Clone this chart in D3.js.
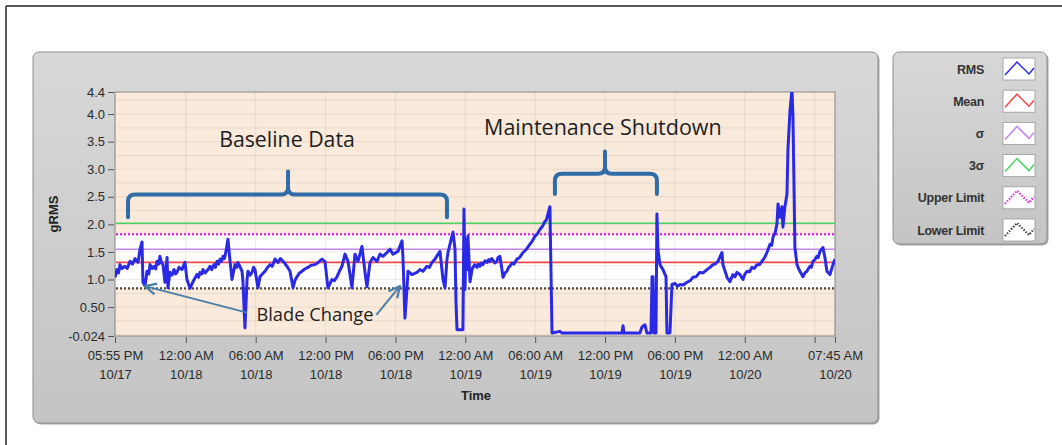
<!DOCTYPE html>
<html>
<head>
<meta charset="utf-8">
<script src="https://cdn.jsdelivr.net/npm/d3@7"></script>
<style>
  body { margin: 0; background: #fff; }
  svg { display: block; font-family: "Liberation Sans", Arial, sans-serif; }
</style>
</head>
<body>
<svg id="chart" width="1062" height="445"></svg>
<script>
// time window of the recording
const startTime = "2013-10-17T17:55";
const endTime = "2013-10-20T07:45";

// x ticks (the 06:00 AM 10/20 tick carries no label in the original)
const xTickTimes = ["2013-10-17T17:55", "2013-10-18T00:00", "2013-10-18T06:00", "2013-10-18T12:00",
  "2013-10-18T18:00", "2013-10-19T00:00", "2013-10-19T06:00", "2013-10-19T12:00",
  "2013-10-19T18:00", "2013-10-20T00:00", "2013-10-20T06:00", "2013-10-20T07:45"];
const xTickTop = ["05:55 PM", "12:00 AM", "06:00 AM", "12:00 PM", "06:00 PM", "12:00 AM",
  "06:00 AM", "12:00 PM", "06:00 PM", "12:00 AM", "", "07:45 AM"];
const xTickBottom = ["10/17", "10/18", "10/18", "10/18", "10/18", "10/19",
  "10/19", "10/19", "10/19", "10/20", "", "10/20"];

const yTickValues = [4.4, 4.0, 3.5, 3.0, 2.5, 2.0, 1.5, 1.0, 0.5, -0.024];
const yTickLabels = ["4.4", "4.0", "3.5", "3.0", "2.5", "2.0", "1.5", "1.0", "0.50", "-0.024"];

// reference levels (gRMS)
const meanLevel = 1.31;
const sigmaLevel = 1.55;
const threeSigmaLevel = 2.02;
const upperLimit = 1.82;
const lowerLimit = 0.84;

// RMS trace: [hours after 05:55 PM 10/17, gRMS]
const rmsPoints = [
  [0, 1.04], [0.17, 1.18], [0.30, 1.12], [0.43, 1.27], [0.60, 1.20], [0.86, 1.24], [1.05, 1.20],
  [1.29, 1.33], [1.50, 1.28], [1.72, 1.38], [1.98, 1.31],
  [2.15, 1.55], [2.32, 1.68], [2.40, 0.95], [2.58, 0.89], [2.75, 1.15], [2.90, 1.10], [3.01, 1.27],
  [3.20, 1.20], [3.35, 1.24], [3.50, 1.19], [3.61, 1.33], [3.75, 1.28], [3.86, 1.42], [4.00, 1.30],
  [4.12, 1.27], [4.29, 0.95], [4.47, 1.40], [4.55, 0.85], [4.72, 1.13], [4.90, 1.08],
  [5.07, 1.18], [5.20, 1.10], [5.32, 1.13], [5.50, 1.22], [5.75, 1.18], [6.01, 1.31], [6.18, 1.00],
  [6.44, 0.84], [6.70, 0.96], [6.85, 1.02],
  [7.04, 1.09], [7.18, 1.04], [7.30, 1.13], [7.45, 1.10], [7.56, 1.18], [7.75, 1.12], [7.90, 1.16],
  [8.05, 1.20], [8.16, 1.24], [8.30, 1.18], [8.50, 1.27], [8.62, 1.22], [8.76, 1.33],
  [8.90, 1.28], [9.02, 1.37], [9.15, 1.33], [9.27, 1.42], [9.40, 1.38], [9.53, 1.51], [9.70, 1.73],
  [9.88, 1.33], [10.05, 1.00], [10.30, 1.27], [10.45, 1.22],
  [10.56, 1.31], [10.91, 1.15], [10.99, 0.96], [11.16, 0.12], [11.34, 1.00], [11.42, 1.15],
  [11.60, 1.08], [11.76, 1.13], [11.90, 1.22], [12.02, 1.18], [12.28, 0.85], [12.45, 1.05],
  [12.65, 1.10], [12.88, 1.15], [13.10, 1.22], [13.31, 1.27], [13.50, 1.24],
  [13.74, 1.37], [14.00, 1.31], [14.20, 1.38], [14.43, 1.33], [14.60, 1.29], [14.77, 1.24],
  [15.03, 1.15], [15.29, 0.85], [15.45, 0.98],
  [15.63, 1.05], [15.85, 1.12], [16.06, 1.15], [16.30, 1.19], [16.57, 1.22], [16.85, 1.26],
  [17.17, 1.27], [17.45, 1.31], [17.78, 1.37], [18.03, 1.33],
  [18.29, 0.85], [18.63, 1.00], [18.85, 0.98], [19.06, 1.05], [19.25, 1.14], [19.49, 1.24],
  [19.75, 1.46], [20.01, 1.33],
  [20.35, 0.85], [20.61, 1.46], [20.87, 1.33], [21.21, 1.60], [21.47, 1.13], [21.64, 0.87],
  [21.90, 1.31], [22.16, 1.40], [22.50, 1.33], [22.76, 1.46], [23.01, 1.42], [23.36, 1.49],
  [23.62, 1.55], [23.87, 1.46], [24.30, 1.51], [24.65, 1.70], [24.73, 1.40], [24.90, 0.30],
  [25.08, 0.85], [25.16, 1.15], [25.50, 1.09], [25.93, 1.13], [26.19, 1.18], [26.45, 1.15],
  [26.79, 1.24], [27.00, 1.22], [27.22, 1.31], [27.48, 1.37], [27.74, 1.46], [27.91, 1.51],
  [28.17, 1.00], [28.34, 0.85], [28.51, 1.37], [28.60, 1.49], [28.94, 1.79], [29.03, 1.86],
  [29.20, 1.55], [29.28, 0.63], [29.37, 0.09], [29.71, 0.09], [29.88, 0.09], [29.97, 2.28],
  [30.06, 0.82], [30.14, 1.73], [30.23, 1.18], [30.31, 1.79], [30.49, 0.96], [30.66, 1.18],
  [30.74, 1.22], [30.90, 1.27], [31.09, 1.22], [31.20, 1.28], [31.34, 1.24], [31.48, 1.30],
  [31.60, 1.27], [31.78, 1.34], [31.95, 1.31], [32.08, 1.36], [32.20, 1.33], [32.35, 1.38],
  [32.46, 1.35], [32.62, 1.30], [32.80, 1.33], [32.89, 1.40], [33.06, 1.42], [33.23, 1.18],
  [33.32, 1.04], [33.50, 1.12], [33.66, 1.15], [33.80, 1.22], [33.92, 1.24], [34.10, 1.30],
  [34.25, 1.28], [34.52, 1.37], [34.75, 1.40], [35.04, 1.49], [35.30, 1.54], [35.64, 1.64],
  [35.85, 1.70], [36.07, 1.79], [36.25, 1.82], [36.50, 1.91], [36.70, 1.96], [36.93, 2.06],
  [37.05, 2.08], [37.18, 2.19], [37.35, 2.32], [37.53, 0.03], [38.21, 0.06], [38.39, 0.03],
  [43.54, 0.03], [43.63, 0.16], [43.71, 0.03], [45.08, 0.03], [45.26, 0.14], [45.51, 0.18],
  [45.68, 0.03], [46.03, 0.03], [46.12, 1.05], [46.20, 1.05], [46.29, 0.03], [46.46, 0.03],
  [46.54, 2.19], [46.63, 1.55], [46.80, 1.27], [47.06, 1.18], [47.32, 1.05], [47.40, 0.03],
  [47.66, 0.03], [47.83, 0.91], [48.09, 0.93], [48.30, 0.88], [48.52, 0.91], [48.80, 0.90],
  [49.12, 0.95], [49.40, 0.98], [49.64, 1.04], [49.90, 1.05], [50.24, 1.13], [50.50, 1.12],
  [50.84, 1.18], [51.10, 1.22], [51.35, 1.27], [51.55, 1.28], [51.78, 1.33], [52.13, 1.49],
  [52.21, 1.27], [52.56, 1.04], [52.81, 0.96], [53.07, 1.09], [53.25, 1.05], [53.41, 1.13],
  [53.67, 1.09], [53.93, 1.00], [54.10, 1.10], [54.27, 1.15], [54.50, 1.14], [54.70, 1.22],
  [54.90, 1.20], [55.13, 1.27], [55.35, 1.27], [55.56, 1.33], [55.80, 1.40], [55.99, 1.49],
  [56.25, 1.64], [56.40, 1.62], [56.51, 1.77], [56.70, 1.85], [56.85, 2.01], [56.94, 2.37],
  [57.11, 2.13], [57.28, 2.32], [57.36, 1.95], [57.53, 2.32], [57.71, 2.55], [57.79, 3.34],
  [57.97, 4.07], [58.14, 4.44], [58.22, 3.96], [58.31, 2.74], [58.39, 1.58], [58.57, 1.27],
  [58.70, 1.20], [58.82, 1.15], [58.95, 1.10], [59.08, 1.05], [59.25, 1.12], [59.42, 1.15],
  [59.55, 1.20], [59.68, 1.24], [59.80, 1.22], [59.94, 1.33], [60.10, 1.36], [60.28, 1.42],
  [60.40, 1.40], [60.54, 1.51], [60.80, 1.58], [60.97, 1.40], [61.14, 1.15], [61.40, 1.09],
  [61.66, 1.27], [61.83, 1.37]
];

// legend
const legendNames = ["RMS", "Mean", "\u03c3", "3\u03c3", "Upper Limit", "Lower Limit"];
const legendColors = ["#2a2ae6", "#ef4a4a", "#c486f0", "#4cd164", "#e030e6", "#4a4838"];
const legendDashed = [false, false, false, false, true, true];

// annotations: [hours, gRMS]
const baselineBrace = { from: 1.12, to: 28.51, mid: 14.86, bar: 2.54, end: 2.13, tip: 2.96 };
const shutdownBrace = { from: 37.78, to: 46.54, mid: 42.08, bar: 2.92, end: 2.55, tip: 3.32 };
const bladeArrows = [[[11.34, 0.40], [2.58, 0.88]], [[22.45, 0.36], [24.47, 0.88]]];

const svg = d3.select("#chart");
const parse = d3.timeParse("%Y-%m-%dT%H:%M");
const t0 = parse(startTime);
const atHour = h => new Date(t0.getTime() + h * 3600e3);

const plot = { left: 115, right: 835, top: 92, bottom: 336 };

const x = d3.scaleTime()
  .domain([t0, parse(endTime)])
  .range([plot.left, plot.right]);

const y = d3.scaleLinear()
  .domain([-0.024, 4.4])
  .range([plot.bottom, plot.top]);

// page frame lines
svg.append("line").attr("x1", 6).attr("x2", 1062).attr("y1", 6).attr("y2", 6)
  .attr("stroke", "#222").attr("stroke-width", 1.5);
svg.append("line").attr("x1", 6).attr("x2", 6).attr("y1", 6).attr("y2", 445)
  .attr("stroke", "#222").attr("stroke-width", 1.5);

// gray panels
const defs = svg.append("defs");
const grad = defs.append("linearGradient").attr("id", "panelGrad")
  .attr("x1", 0).attr("y1", 0).attr("x2", 0).attr("y2", 1);
grad.append("stop").attr("offset", "0%").attr("stop-color", "#d8d8d8");
grad.append("stop").attr("offset", "100%").attr("stop-color", "#c4c4c4");

defs.append("clipPath").attr("id", "plotClip")
  .append("rect")
  .attr("x", plot.left).attr("y", plot.top)
  .attr("width", plot.right - plot.left).attr("height", plot.bottom - plot.top);

defs.append("marker").attr("id", "arrowHead")
  .attr("viewBox", "0 0 10 10").attr("refX", 9).attr("refY", 5)
  .attr("markerWidth", 7).attr("markerHeight", 7).attr("orient", "auto")
  .append("path").attr("d", "M1,1 L9,5 L1,9")
  .attr("fill", "none").attr("stroke", "#4a7fa8").attr("stroke-width", 1.6);

function panel(x0, y0, x1, y1) {
  svg.append("rect")
    .attr("x", x0 + 1.5).attr("y", y0 + 1.5).attr("width", x1 - x0).attr("height", y1 - y0)
    .attr("rx", 6).attr("fill", "#a8a8a8");
  svg.append("rect")
    .attr("x", x0).attr("y", y0).attr("width", x1 - x0).attr("height", y1 - y0)
    .attr("rx", 6).attr("fill", "url(#panelGrad)")
    .attr("stroke", "#8e8e8e").attr("stroke-width", 1);
}
panel(33, 52, 878, 423);
panel(893, 52, 1047, 244);

// plot background: beige with white band between limits
svg.append("rect")
  .attr("x", plot.left).attr("y", plot.top)
  .attr("width", plot.right - plot.left).attr("height", plot.bottom - plot.top)
  .attr("fill", "#f9eadb");
svg.append("rect")
  .attr("x", plot.left).attr("y", y(upperLimit))
  .attr("width", plot.right - plot.left).attr("height", y(lowerLimit) - y(upperLimit))
  .attr("fill", "#ffffff");

// grid
const grid = svg.append("g").attr("stroke", "#7a6a5a").attr("stroke-opacity", 0.13);
grid.selectAll("line.h")
  .data(d3.range(0, 4.4, 0.25))
  .join("line")
  .attr("x1", plot.left).attr("x2", plot.right)
  .attr("y1", d => y(d)).attr("y2", d => y(d));
grid.selectAll("line.v")
  .data(xTickTimes.map(parse))
  .join("line")
  .attr("x1", d => x(d)).attr("x2", d => x(d))
  .attr("y1", plot.top).attr("y2", plot.bottom);

svg.append("rect")
  .attr("x", plot.left).attr("y", plot.top)
  .attr("width", plot.right - plot.left).attr("height", plot.bottom - plot.top)
  .attr("fill", "none").attr("stroke", "#8a8a8a").attr("stroke-width", 1);

// reference lines
const refs = [
  { v: threeSigmaLevel, c: legendColors[3], w: 1.6, dash: null },
  { v: upperLimit, c: legendColors[4], w: 2.6, dash: "2,2" },
  { v: sigmaLevel, c: legendColors[2], w: 1.6, dash: null },
  { v: meanLevel, c: legendColors[1], w: 1.6, dash: null },
  { v: lowerLimit, c: legendColors[5], w: 2.2, dash: "2,2" }
];
svg.append("g").selectAll("line")
  .data(refs)
  .join("line")
  .attr("x1", plot.left + 1).attr("x2", plot.right)
  .attr("y1", d => y(d.v)).attr("y2", d => y(d.v))
  .attr("stroke", d => d.c).attr("stroke-width", d => d.w)
  .attr("stroke-dasharray", d => d.dash);

// RMS trace
const line = d3.line()
  .x(d => x(atHour(d[0])))
  .y(d => y(d[1]));
svg.append("path")
  .datum(rmsPoints)
  .attr("clip-path", "url(#plotClip)")
  .attr("d", line)
  .attr("fill", "none")
  .attr("stroke", legendColors[0])
  .attr("stroke-width", 3)
  .attr("stroke-linejoin", "round");

// axes
const yAxis = svg.append("g")
  .attr("transform", `translate(${plot.left - 1},0)`)
  .call(d3.axisLeft(y).tickValues(yTickValues)
    .tickFormat((d, i) => yTickLabels[i]).tickSize(6).tickPadding(3));
yAxis.select(".domain").remove();
yAxis.selectAll("text").attr("font-size", 13).attr("fill", "#2a2a2a")
  .attr("font-family", "Liberation Sans, Arial, sans-serif");
yAxis.selectAll("line").attr("stroke", "#555");

const xAxis = svg.append("g")
  .attr("transform", `translate(0,${plot.bottom + 1})`)
  .call(d3.axisBottom(x).tickValues(xTickTimes.map(parse)).tickFormat("").tickSize(6));
xAxis.select(".domain").remove();
xAxis.selectAll("line").attr("stroke", "#555");
xAxis.selectAll(".tick").each(function (d, i) {
  const t = d3.select(this).append("text")
    .attr("fill", "#2a2a2a").attr("font-size", 13).attr("text-anchor", "middle")
    .attr("font-family", "Liberation Sans, Arial, sans-serif");
  t.append("tspan").attr("x", 0).attr("y", 23).text(xTickTop[i]);
  t.append("tspan").attr("x", 0).attr("y", 42).text(xTickBottom[i]);
});

svg.append("text")
  .attr("transform", `translate(58,${(plot.top + plot.bottom) / 2}) rotate(-90)`)
  .attr("text-anchor", "middle").attr("font-weight", "bold").attr("font-size", 13)
  .attr("fill", "#222").text("gRMS");

svg.append("text")
  .attr("x", 476).attr("y", 400)
  .attr("text-anchor", "middle").attr("font-weight", "bold").attr("font-size", 13)
  .attr("fill", "#222").text("Time");

// annotations
function brace(b) {
  const x1 = x(atHour(b.from)), x2 = x(atHour(b.to)), xm = x(atHour(b.mid));
  const yb = y(b.bar), ye = y(b.end), yt = y(b.tip);
  const r = 7;
  const d = `M${x1},${ye} L${x1},${yb + r} Q${x1},${yb} ${x1 + r},${yb} L${xm - r},${yb} Q${xm},${yb} ${xm},${yb - r} L${xm},${yt}` +
    ` M${xm},${yb - r} Q${xm},${yb} ${xm + r},${yb} L${x2 - r},${yb} Q${x2},${yb} ${x2},${yb + r} L${x2},${ye}`;
  svg.append("path").attr("d", d)
    .attr("fill", "none").attr("stroke", "#2f6ca8").attr("stroke-width", 4)
    .attr("stroke-linecap", "round").attr("stroke-linejoin", "round");
}
brace(baselineBrace);
brace(shutdownBrace);

const annoFont = "'Open Sans', 'Noto Sans', sans-serif";
svg.append("text").attr("x", x(atHour(14.77))).attr("y", y(3.40))
  .attr("text-anchor", "middle").attr("font-size", 21.3).attr("font-family", annoFont)
  .attr("fill", "#1e1e1e").text("Baseline Data");
svg.append("text").attr("x", x(atHour(41.9))).attr("y", y(3.62))
  .attr("text-anchor", "middle").attr("font-size", 21.5).attr("font-family", annoFont)
  .attr("fill", "#1e1e1e").text("Maintenance Shutdown");

svg.append("g").selectAll("line")
  .data(bladeArrows)
  .join("line")
  .attr("x1", d => x(atHour(d[0][0]))).attr("y1", d => y(d[0][1]))
  .attr("x2", d => x(atHour(d[1][0]))).attr("y2", d => y(d[1][1]))
  .attr("stroke", "#4a7fa8").attr("stroke-width", 2)
  .attr("marker-end", "url(#arrowHead)");

svg.append("text").attr("x", x(atHour(17.17))).attr("y", y(0.24))
  .attr("text-anchor", "middle").attr("font-size", 18.3).attr("font-family", annoFont)
  .attr("fill", "#1e1e1e").text("Blade Change");

// legend
const lg = svg.append("g");
legendNames.forEach((name, i) => {
  const cy = 69 + i * 32.2;
  lg.append("text").attr("x", 984).attr("y", cy + 4.5)
    .attr("text-anchor", "end").attr("font-size", 12.5).attr("font-weight", "bold")
    .attr("fill", "#333").attr("letter-spacing", -0.3).text(name);
  lg.append("rect").attr("x", 1003).attr("y", cy - 11).attr("width", 32).attr("height", 22)
    .attr("fill", "#fff").attr("stroke", "#9a9a9a").attr("stroke-width", 0.8);
  const zig = [[1005, cy + 6], [1017, cy - 7], [1029, cy + 5], [1034, cy - 1]];
  lg.append("path").attr("d", d3.line()(zig))
    .attr("fill", "none").attr("stroke", legendColors[i])
    .attr("stroke-width", legendDashed[i] ? 2.2 : 1.5)
    .attr("stroke-dasharray", legendDashed[i] ? "1.5,1.5" : null);
});
</script>
</body>
</html>
